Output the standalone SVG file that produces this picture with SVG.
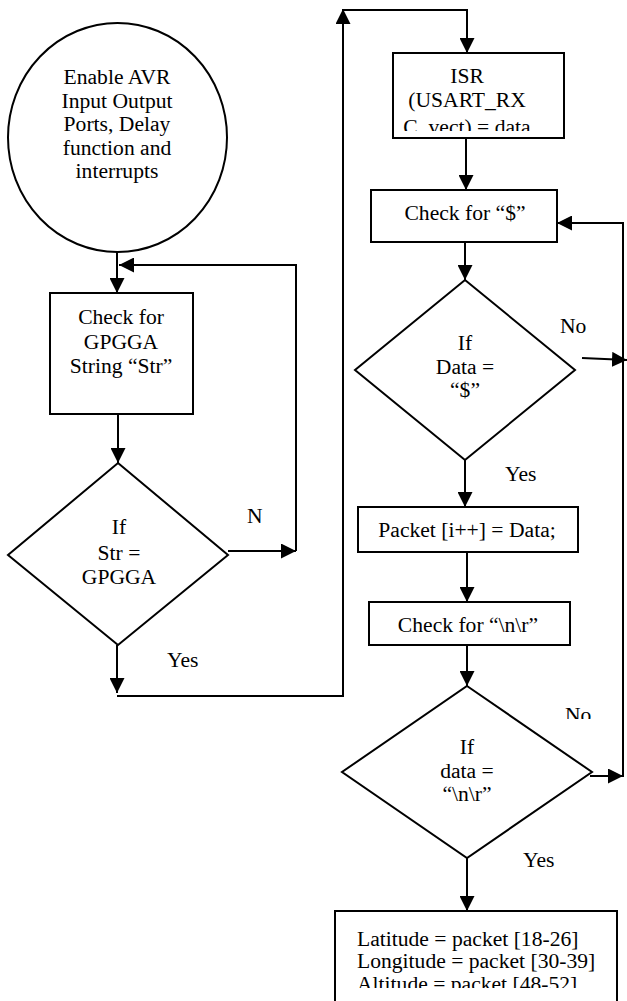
<svg xmlns="http://www.w3.org/2000/svg" width="627" height="1001" viewBox="0 0 627 1001" font-family="'Times New Roman', 'Liberation Serif', Tinos, 'DejaVu Serif', serif">
  <defs>
    <marker id="arrow" viewBox="0 0 15 15" markerWidth="15" markerHeight="15" refX="15" refY="7.5" orient="auto" markerUnits="userSpaceOnUse">
      <path d="M0,0 L15,7.5 L0,15 z" fill="#000"/>
    </marker>
    <clipPath id="clipIsr"><rect x="393" y="53" width="171" height="78"/></clipPath>
    <clipPath id="clipOut"><rect x="335" y="911" width="282" height="77"/></clipPath>
    <clipPath id="clipNo2"><rect x="555" y="700" width="40" height="19"/></clipPath>
  </defs>
  <style>
    .shape { fill: #fff; stroke: #000; stroke-width: 2; }
    .wire { fill: none; stroke: #000; stroke-width: 2; }
    .arr { marker-end: url(#arrow); }
    text { font-size: 21.6px; fill: #000; }
    .c { text-anchor: middle; }
  </style>
  <rect width="627" height="1001" fill="#fff"/>

  <!-- connectors -->
  <g id="connectors">
    <line class="wire arr" x1="117" y1="252" x2="117" y2="293"/>
    <polyline class="wire arr" points="296,551 296,265 119,265"/>
    <line class="wire arr" x1="118" y1="414" x2="118" y2="463"/>
    <line class="wire arr" x1="228" y1="551" x2="296" y2="551"/>
    <line class="wire arr" x1="117" y1="645" x2="117" y2="693"/>
    <polyline class="wire arr" points="117,696 343,696 343,9"/>
    <polyline class="wire arr" points="343,10 467,10 467,53"/>
    <line class="wire arr" x1="466" y1="138" x2="466" y2="190"/>
    <polyline class="wire arr" points="623,777 623,223 557,223"/>
    <line class="wire arr" x1="465" y1="242" x2="465" y2="280"/>
    <line class="wire arr" x1="582" y1="358" x2="627" y2="360"/>
    <line class="wire arr" x1="465" y1="460" x2="465" y2="507"/>
    <line class="wire arr" x1="467" y1="552" x2="467" y2="602"/>
    <line class="wire arr" x1="467" y1="645" x2="467" y2="686"/>
    <line class="wire arr" x1="590" y1="776" x2="623" y2="776"/>
    <line class="wire arr" x1="467" y1="858" x2="467" y2="911"/>
  </g>

  <!-- branch labels -->
  <g id="labels">
    <text x="247" y="523">N</text>
    <text x="167" y="667">Yes</text>
    <text x="560" y="333">No</text>
    <text x="505" y="481">Yes</text>
    <text x="565" y="722" clip-path="url(#clipNo2)">No</text>
    <text x="523" y="867">Yes</text>
  </g>

  <g id="start">
    <ellipse class="shape" cx="117.5" cy="137.5" rx="109.5" ry="114.5"/>
    <text class="c" x="117" y="84">Enable AVR</text>
    <text class="c" x="117" y="108">Input Output</text>
    <text class="c" x="117" y="131">Ports, Delay</text>
    <text class="c" x="117" y="155">function and</text>
    <text class="c" x="117" y="178">interrupts</text>
  </g>

  <g id="check-gpgga">
    <rect class="shape" x="50" y="293" width="143" height="121"/>
    <text class="c" x="121" y="324">Check for</text>
    <text class="c" x="121" y="349">GPGGA</text>
    <text class="c" x="121" y="373">String “Str”</text>
  </g>

  <g id="if-gpgga">
    <polygon class="shape" points="118,463 228,555 118,645 8,555"/>
    <text class="c" x="119" y="534">If</text>
    <text class="c" x="119" y="560">Str =</text>
    <text class="c" x="119" y="584">GPGGA</text>
  </g>

  <g id="isr">
    <rect class="shape" x="393" y="53" width="171" height="85"/>
    <g clip-path="url(#clipIsr)">
      <text class="c" x="467" y="83">ISR</text>
      <text class="c" x="467" y="107">(USART_RX</text>
      <text class="c" x="467" y="134">C_vect) = data</text>
    </g>
  </g>

  <g id="check-dollar">
    <rect class="shape" x="371" y="190" width="186" height="52"/>
    <text class="c" x="465" y="220">Check for “$”</text>
  </g>

  <g id="if-dollar">
    <polygon class="shape" points="465,280 575,370 465,460 355,370"/>
    <text class="c" x="465" y="350">If</text>
    <text class="c" x="465" y="374">Data =</text>
    <text class="c" x="465" y="397">“$”</text>
  </g>

  <g id="store-packet">
    <rect class="shape" x="358" y="507" width="220" height="45"/>
    <text class="c" x="467" y="537">Packet [i++] = Data;</text>
  </g>

  <g id="check-newline">
    <rect class="shape" x="369" y="602" width="201" height="43"/>
    <text class="c" x="468" y="632">Check for “\n\r”</text>
  </g>

  <g id="if-newline">
    <polygon class="shape" points="467,686 592,772 467,858 342,772"/>
    <text class="c" x="467" y="754">If</text>
    <text class="c" x="467" y="778">data =</text>
    <text class="c" x="467" y="801">“\n\r”</text>
  </g>

  <g id="extract">
    <rect class="shape" x="335" y="911" width="282" height="100"/>
    <g clip-path="url(#clipOut)">
      <text x="357" y="946">Latitude = packet [18-26]</text>
      <text x="357" y="968">Longitude = packet [30-39]</text>
      <text x="357" y="991">Altitude = packet [48-52]</text>
    </g>
  </g>
</svg>
